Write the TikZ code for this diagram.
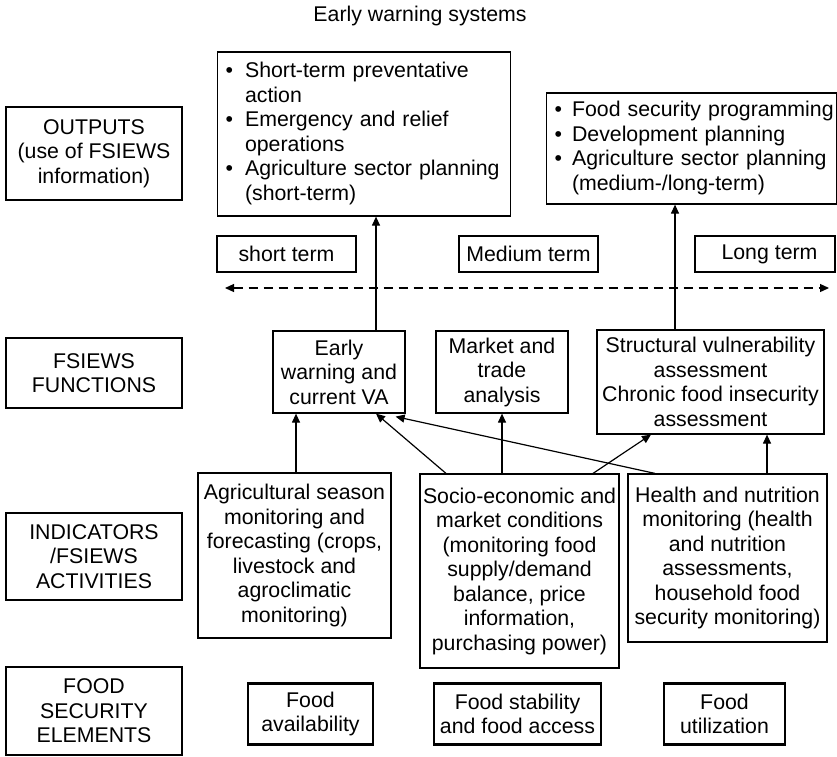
\documentclass[tikz,border=0pt]{standalone}
\usepackage{fontspec}
\setmainfont{Liberation Sans}
\usetikzlibrary{arrows.meta}
\begin{document}
\begin{tikzpicture}[x=1pt,y=-1pt,
  txt/.style={font=\fontsize{21.3}{24.5}\selectfont},
  box/.style={txt, draw, line width=1.2pt, inner sep=0pt, align=center},
  fbox/.style={box, line width=2.4pt},
  arr/.style={line width=1.2pt, -{Triangle[length=9pt,width=8pt]}},
  dasharr/.style={line width=1.2pt, dash pattern=on 9pt off 6pt,
     {Triangle[length=9pt,width=8pt]}-{Triangle[length=9pt,width=8pt]}},
]
\useasboundingbox (0,0) rectangle (837,756);

% title
\node[txt, inner sep=0pt] (title) at (420,16) {Early warning systems};

% left row labels
\node[box, minimum width=176pt, minimum height=93pt] (outL) at (94,153.5) {OUTPUTS\\(use of FSIEWS\\information)};
\node[box, minimum width=176pt, minimum height=70pt] (fnL) at (94,373) {FSIEWS\\FUNCTIONS};
\node[box, minimum width=176pt, minimum height=87pt] (indL) at (94,556.5) {INDICATORS\\/FSIEWS\\ACTIVITIES};
\node[box, minimum width=176pt, minimum height=88pt] (fseL) at (94,711) {FOOD\\SECURITY\\ELEMENTS};

% outputs
\node[box, anchor=west, minimum height=164pt, text width=277pt, align=left, inner xsep=8pt] (out1) at (217,134)
 {\begin{tabular}{@{}l@{\hspace{12pt}}l@{}}
  \textbullet & Short-term preventative\\
   & action\\
  \textbullet & Emergency and relief\\
   & operations\\
  \textbullet & Agriculture sector planning\\
   & (short-term)
  \end{tabular}};
\node[box, anchor=west, minimum height=111pt, text width=274pt, align=left, inner xsep=8pt] (out2) at (546,148.5)
 {\begin{tabular}{@{}l@{\hspace{10pt}}l@{}}
  \textbullet & Food security programming\\
  \textbullet & Development planning\\
  \textbullet & Agriculture sector planning\\
   & (medium-/long-term)
  \end{tabular}};

% term boxes
\node[box, minimum width=139pt, minimum height=36pt] (short) at (286.5,254) {short term};
\node[box, minimum width=139pt, minimum height=36pt] (medium) at (528.5,254) {Medium term};
\node[box, minimum width=140pt, minimum height=36pt] (long) at (765,254) {\hspace*{9pt}Long term};
\coordinate (dl) at (225,288);
\coordinate (dr) at (829,288);
\draw[dasharr] (dl) -- (dr);

% functions
\node[box, minimum width=132pt, minimum height=82pt] (early) at (339,372) {Early\\warning and\\current VA};
\node[box, minimum width=132pt, minimum height=82pt] (market) at (502,372) {Market and\\trade\\analysis};
\node[box, minimum width=227pt, minimum height=104pt] (struct) at (710.5,382) {Structural vulnerability\\assessment\\Chronic food insecurity\\assessment};

% activities
\node[box, minimum width=193pt, minimum height=165pt] (agri) at (294.5,555.5) {Agricultural season\\monitoring and\\forecasting (crops,\\livestock and\\agroclimatic\\monitoring)};
\node[box, minimum width=199pt, minimum height=194pt] (socio) at (519.5,571) {Socio-economic and\\market conditions\\(monitoring food\\supply/demand\\balance, price\\information,\\purchasing power)};
\node[box, minimum width=199pt, minimum height=168pt] (health) at (727.5,558) {Health and nutrition\\monitoring (health\\and nutrition\\assessments,\\household food\\security monitoring)};

% food security elements
\node[fbox, minimum width=125pt, minimum height=61pt] (favail) at (310.5,714) {Food\\availability};
\node[fbox, minimum width=167pt, minimum height=61pt] (fstab) at (517.5,714) {Food stability\\and food access};
\node[fbox, minimum width=121pt, minimum height=61pt] (futil) at (724.5,714) {Food\\utilization};

% connectors
\draw[arr] ([xshift=37pt]early.north) -- ([xshift=37pt]early.north |- out1.south);
\draw[arr] ([xshift=-35.5pt]struct.north) -- ([xshift=-35.5pt]struct.north |- out2.south);
\draw[arr] ([xshift=1.5pt]agri.north) -- ([xshift=1.5pt]agri.north |- early.south);
\draw[arr] ([xshift=-73.5pt]socio.north) -- ([xshift=37pt]early.south);
\draw[arr] (socio.north -| market.south) -- (market.south);
\draw[arr] ([xshift=73.5pt]socio.north) -- ([xshift=-59.5pt]struct.south);
\draw[arr] ([xshift=-72.5pt]health.north) -- ([xshift=-10pt,yshift=-3pt]early.south east);
\draw[arr] ([xshift=39.5pt]health.north) -- ([xshift=39.5pt]health.north |- struct.south);
\end{tikzpicture}
\end{document}
